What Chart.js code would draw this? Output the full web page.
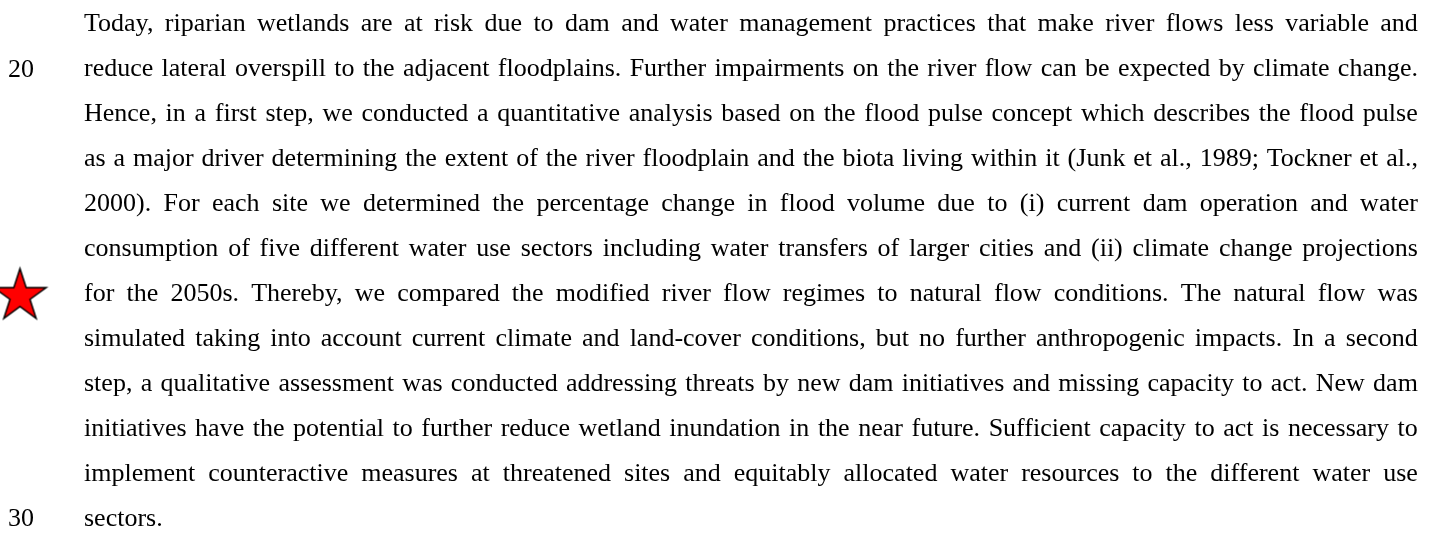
<!DOCTYPE html>
<html>
<head>
<meta charset="utf-8">
<script src="https://cdn.jsdelivr.net/npm/chart.js@4.4.1/dist/chart.umd.min.js"></script>
<style>
  html, body { margin: 0; padding: 0; background: #fff; }
  .page { position: relative; width: 1438px; height: 537px; overflow: hidden; }
  #ccanvas { position: absolute; left: 0; top: 0; }
  .line {
    position: absolute; left: 84px; width: 1334px; height: 30px; line-height: 30px;
    font-family: "Liberation Serif", "Times New Roman", serif; font-size: 26px; color: #000;
    display: flex; justify-content: space-between; white-space: nowrap;
  }
  .line.last { justify-content: flex-start; }
</style>
</head>
<body>
<div class="page" id="page">
  <canvas id="ccanvas" width="1438" height="537"></canvas>
</div>
<script>
// manuscript line numbers shown on the page (19 is the first line)
const lineNumbers = [19, 20, 21, 22, 23, 24, 25, 26, 27, 28, 29, 30]
const labelledLines = [20, 30]
// the red star marks this line
const starLines = [25]
const textLines = [
  'Today, riparian wetlands are at risk due to dam and water management practices that make river flows less variable and',
  'reduce lateral overspill to the adjacent floodplains. Further impairments on the river flow can be expected by climate change.',
  'Hence, in a first step, we conducted a quantitative analysis based on the flood pulse concept which describes the flood pulse',
  'as a major driver determining the extent of the river floodplain and the biota living within it (Junk et al., 1989; Tockner et al.,',
  '2000). For each site we determined the percentage change in flood volume due to (i) current dam operation and water',
  'consumption of five different water use sectors including water transfers of larger cities and (ii) climate change projections',
  'for the 2050s. Thereby, we compared the modified river flow regimes to natural flow conditions. The natural flow was',
  'simulated taking into account current climate and land-cover conditions, but no further anthropogenic impacts. In a second',
  'step, a qualitative assessment was conducted addressing threats by new dam initiatives and missing capacity to act. New dam',
  'initiatives have the potential to further reduce wetland inundation in the near future. Sufficient capacity to act is necessary to',
  'implement counteractive measures at threatened sites and equitably allocated water resources to the different water use',
  'sectors.'
]

// red star with black outline, used as point style (sits a touch below the line centre)
function makeStar(size) {
  const c = document.createElement('canvas')
  c.width = size
  c.height = size + 3
  const ctx = c.getContext('2d')
  const R = size / 2 - 2
  const r = R * 0.382
  const cx = size / 2
  const cy = size / 2 + 3
  ctx.beginPath()
  for (let i = 0; i < 10; i++) {
    const a = -Math.PI / 2 + i * Math.PI / 5
    const rad = i % 2 === 0 ? R : r
    const px = cx + rad * Math.cos(a)
    const py = cy + rad * Math.sin(a)
    if (i === 0) ctx.moveTo(px, py)
    else ctx.lineTo(px, py)
  }
  ctx.closePath()
  ctx.fillStyle = '#ff0000'
  ctx.fill()
  ctx.lineWidth = 1.5
  ctx.strokeStyle = '#000'
  ctx.stroke()
  return c
}

const ccanvas = document.querySelector('#ccanvas')
const page = document.querySelector('#page')

const chart = new Chart(ccanvas, {
  type: 'scatter',
  data: {
    datasets: [{
      data: starLines.map(n => ({ x: 0, y: n })),
      pointStyle: makeStar(59),
      // image point styles ignore the radius; keep it tiny so no layout padding is added
      pointRadius: 0.5,
      pointBorderWidth: 0,
      clip: false
    }]
  },
  options: {
    responsive: false,
    animation: false,
    events: [],
    layout: { padding: 0 },
    plugins: { legend: { display: false }, tooltip: { enabled: false } },
    scales: {
      x: { type: 'linear', min: 0, max: 1, display: false },
      y: {
        type: 'linear',
        reverse: true,
        min: 18.54,
        max: 30.3,
        grid: { display: false, drawTicks: false },
        border: { display: false },
        afterBuildTicks: (scale) => {
          scale.ticks = lineNumbers.map(v => ({ value: v }))
        },
        afterFit: (scale) => {
          scale.width = 20
          scale.paddingTop = 0
          scale.paddingBottom = 0
        },
        ticks: {
          mirror: true,
          padding: -12,
          autoSkip: false,
          color: '#000',
          font: { family: 'Liberation Serif', size: 26 },
          callback: (v) => labelledLines.includes(v) ? String(v) : ''
        }
      }
    }
  }
})

// place each text line on the line-number scale
lineNumbers.forEach((n, i) => {
  const div = document.createElement('div')
  div.className = 'line' + (i === textLines.length - 1 ? ' last' : '')
  const y = chart.scales.y.getPixelForValue(n)
  div.style.top = (y - 17) + 'px'
  if (i === textLines.length - 1) {
    div.textContent = textLines[i]
  } else {
    textLines[i].split(' ').forEach(w => {
      const s = document.createElement('span')
      s.textContent = w
      div.appendChild(s)
    })
  }
  page.appendChild(div)
})
</script>
</body>
</html>
